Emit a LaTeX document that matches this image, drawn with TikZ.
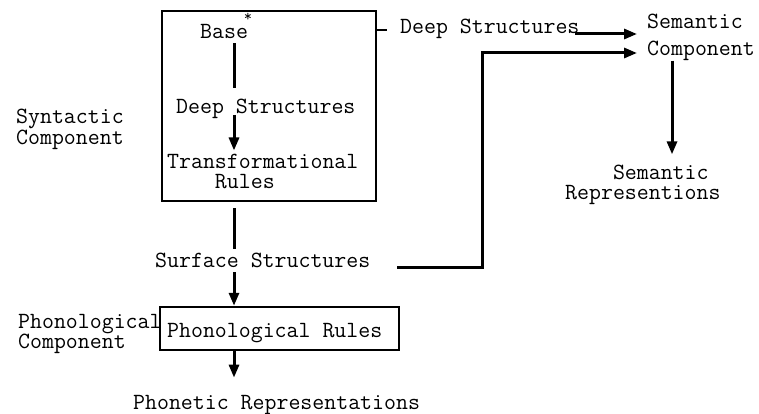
\documentclass[tikz,border=0pt]{standalone}
\usepackage{fontspec}
\usetikzlibrary{arrows.meta}
% left-aligned stack of lines whose baseline is that of the first line
\newcommand\stacked[1]{\begin{tabular}[t]{@{}l@{}}#1\end{tabular}}
\begin{document}
\begin{tikzpicture}[x=1pt,y=-1pt,
  lbl/.style={inner sep=0pt, anchor=base west, font=\ttfamily\fontsize{23.2}{20}\selectfont},
  frame/.style={draw, line width=2.5pt, inner sep=0pt},
  conn/.style={line width=3pt},
  arr/.style={conn, -{Triangle[length=13pt,width=10pt]}},
]
% canvas
\fill[white] (0,0) rectangle (759,414);
\useasboundingbox (0,0) rectangle (759,414);

% boxes
\node[frame, minimum width=214pt, minimum height=190pt] (synbox) at (269,106) {};
\node[frame, minimum width=239pt, minimum height=43pt] (phbox) at (279.5,328.5) {};

% labels
\node[lbl] (base) at (200,39) {Base};
\node[inner sep=0pt, font=\ttfamily\fontsize{16}{16}\selectfont] (star) at (248,17) {*};
\node[lbl] (dsin) at (176,114) {Deep Structures};
\node[lbl] (tr) at (167,168) {\stacked{Transformational\\\hphantom{xxxx}Rules}};
\node[lbl] (syn) at (16,124) {\stacked{Syntactic\\Component}};
\node[lbl] (dsout) at (400,34) {Deep Structures};
\node[lbl] (sem) at (647,29) {\stacked{Semantic\\[6pt]Component}};
\node[lbl] (semrep) at (565,179) {\stacked{\hphantom{xxxx}Semantic\\Representions}};
\node[lbl] (ss) at (155,267) {Surface Structures};
\node[lbl] (phon) at (18,328) {\stacked{Phonological\\Component}};
\node[lbl] (phr) at (167,337) {Phonological Rules};
\node[lbl] (pr) at (133,409) {Phonetic Representations};

% helper coordinates
\coordinate (colA) at (234,0);
\coordinate (colB) at (672,0);
\coordinate (elbow) at (482,53);
\coordinate (tick) at (0,30);
\coordinate (semin) at (0,34);

% connectors
\draw[conn, shorten <=4pt, shorten >=11pt] (base.south -| colA) -- (dsin.north -| colA);
\draw[arr, shorten <=1pt, shorten >=3pt] (dsin.base -| colA) -- (tr.north -| colA);
\draw[conn, shorten <=6pt, shorten >=3pt] (synbox.south -| colA) -- (ss.north -| colA);
\draw[arr, shorten <=5pt] (ss.south -| colA) -- (phbox.north -| colA);
\draw[arr, shorten >=17pt] (phbox.south -| colA) -- (pr.north -| colA);
\draw[line width=2pt] (synbox.east |- tick) -- ++(10,0);
\draw[arr, shorten <=-5pt] (dsout.base east) -- ([xshift=-10pt]sem.west |- semin);
\draw[arr] ([xshift=27pt]ss.base east) -| (elbow) -- ([xshift=-10pt]sem.west |- elbow);
\draw[arr, shorten <=-1pt, shorten >=10pt] (sem.south -| colB) -- (semrep.north -| colB);
\end{tikzpicture}
\end{document}
